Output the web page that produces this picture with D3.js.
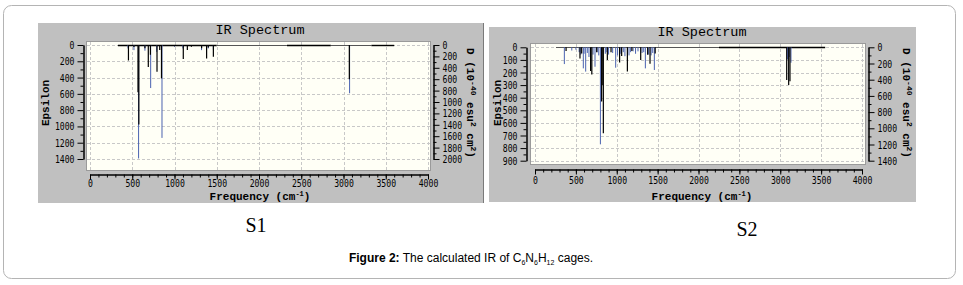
<!DOCTYPE html>
<html><head><meta charset="utf-8">
<script src="https://cdn.jsdelivr.net/npm/d3@7"></script>
<style>body{margin:0;background:#fff}svg{display:block}</style>
</head><body><svg id="c" width="963" height="285"></svg>
<script>
// ---------- DATA ----------
const xTicks = [0, 500, 1000, 1500, 2000, 2500, 3000, 3500, 4000];
const xMinorTicks = d3.range(0, 4001, 100);
const s1EpsTicks = [0, 200, 400, 600, 800, 1000, 1200, 1400];
const s1DTicks = [0, 200, 400, 600, 800, 1000, 1200, 1400, 1600, 1800, 2000];
const s2EpsTicks = [0, 100, 200, 300, 400, 500, 600, 700, 800, 900];
const s2DTicks = [0, 200, 400, 600, 800, 1000, 1200, 1400];

// baseline breakpoints (cm^-1)
const s1Baseline = [330, 1500, 2330, 2850, 3330, 3600];
const s2Baseline = [257, 2250, 3550];

// S1 epsilon (black) peaks
const s1EpsFreq = [455, 520, 568, 578, 650, 690, 715, 793, 825, 846, 1000, 1104, 1152, 1200, 1321, 1380, 1400, 1460, 3069];
const s1EpsVal  = [190, 25, 580, 975, 40, 270, 120, 330, 60, 410, 15, 172, 60, 20, 40, 165, 30, 143, 420];
// S1 dipole strength (blue) sticks
const s1DFreq = [450, 520, 575, 650, 718, 790, 852, 1000, 1100, 1320, 1400, 1460, 3072];
const s1DVal  = [60, 90, 1990, 100, 755, 120, 1630, 30, 60, 90, 60, 80, 847];

// S2 epsilon (black) peaks
const s2EpsFreq = [380, 550, 571, 680, 695, 755, 815, 822, 836, 885, 930, 1035, 1060, 1130, 1185, 1293, 1378, 1407, 1470, 3079, 3103, 3119];
const s2EpsVal  = [30, 88, 50, 188, 215, 40, 430, 300, 683, 100, 40, 120, 70, 193, 30, 100, 60, 130, 50, 260, 300, 270];
// S2 dipole strength (blue) sticks
const s2DFreq = [359, 450, 500, 540, 560, 591, 600, 620, 640, 660, 710, 734, 760, 780, 800, 860, 870, 900, 950, 987, 1010, 1050, 1080, 1100, 1150, 1170, 1200, 1230, 1260, 1310, 1330, 1350, 1390, 1420, 1440, 1460, 3090, 3110, 3131];
const s2DVal  = [207, 40, 30, 60, 90, 260, 80, 300, 70, 120, 90, 240, 60, 100, 1198, 80, 60, 90, 70, 252, 100, 80, 60, 110, 100, 60, 50, 80, 50, 70, 60, 260, 90, 100, 70, 280, 150, 120, 190];

// ---------- DRAW ----------
const svg = d3.select("#c");
svg.append("rect").attr("x", 3.5).attr("y", 5.5).attr("width", 952).attr("height", 273)
  .attr("rx", 8).attr("fill", "#fff").attr("stroke", "#b4b4b4").attr("stroke-width", 1);

const TICKFONT = "'DejaVu Sans Mono', 'Liberation Mono', monospace";
const TITLEFONT = "'Liberation Mono', 'DejaVu Sans Mono', monospace";

function squeeze(sel) {
  sel.selectAll("text").each(function () {
    const t = d3.select(this);
    const s = t.text();
    if (s.length) t.attr("textLength", s.length * 4.9).attr("lengthAdjust", "spacingAndGlyphs");
  });
}

function drawPanel(cfg) {
  const g = svg.append("g");
  g.append("rect").attr("x", cfg.panel[0]).attr("y", cfg.panel[1])
    .attr("width", cfg.panel[2] - cfg.panel[0]).attr("height", cfg.panel[3] - cfg.panel[1])
    .attr("fill", "#c0c0c0");
  if (cfg.shadow) {
    g.append("line").attr("x1", cfg.panel[2] - 0.5).attr("x2", cfg.panel[2] - 0.5)
      .attr("y1", cfg.panel[1]).attr("y2", cfg.panel[3]).attr("stroke", "#7a7a7a");
  }
  const [px0, py0, px1, py1] = cfg.plot;
  g.append("rect").attr("x", px0 + 0.5).attr("y", py0 + 0.5).attr("width", px1 - px0).attr("height", py1 - py0)
    .attr("fill", "#fffff6").attr("stroke", "#9a9a9a");

  const x = d3.scaleLinear().domain([0, 4000]).range(cfg.xr);
  const yE = d3.scaleLinear().domain([0, cfg.epsTicks[cfg.epsTicks.length - 1]]).range(cfg.yr);
  const yD = d3.scaleLinear().domain([0, cfg.dTicks[cfg.dTicks.length - 1]]).range(cfg.yr);

  const grid = g.append("g").attr("stroke", "#c8c8c8").attr("stroke-dasharray", "3,2").attr("stroke-width", 1);
  grid.selectAll("line.v").data(xTicks).join("line").attr("class", "v")
    .attr("x1", d => Math.round(x(d)) + 0.5).attr("x2", d => Math.round(x(d)) + 0.5)
    .attr("y1", py0 + 1).attr("y2", py1);
  grid.selectAll("line.h").data(cfg.epsTicks).join("line").attr("class", "h")
    .attr("y1", d => Math.round(yE(d)) + 0.5).attr("y2", d => Math.round(yE(d)) + 0.5)
    .attr("x1", px0 + 1).attr("x2", px1);

  const bl = cfg.baseline;
  for (let i = 0; i < bl.length - 1; i++) {
    const strong = cfg.baseStrong(i);
    g.append("line").attr("x1", x(bl[i])).attr("x2", x(bl[i + 1]))
      .attr("y1", Math.round(yE(0)) + 0.5).attr("y2", Math.round(yE(0)) + 0.5)
      .attr("stroke", strong ? "#000" : "#555").attr("stroke-width", strong ? 1.4 : 1);
  }
  g.selectAll("line.d").data(cfg.dFreq.map((f, i) => [f, cfg.dVal[i]])).join("line").attr("class", "d")
    .attr("x1", d => x(d[0])).attr("x2", d => x(d[0]))
    .attr("y1", yD(0)).attr("y2", d => yD(d[1]))
    .attr("stroke", "#4a62b0").attr("stroke-width", 1);
  g.selectAll("line.e").data(cfg.epsFreq.map((f, i) => [f, cfg.epsVal[i]])).join("line").attr("class", "e")
    .attr("x1", d => x(d[0])).attr("x2", d => x(d[0]))
    .attr("y1", yE(0)).attr("y2", d => yE(d[1]))
    .attr("stroke", "#000").attr("stroke-width", 1.2);

  const styleAxis = (a, fs) => {
    a.selectAll("path").attr("stroke", "#000");
    a.selectAll("line").attr("stroke", "#000");
    a.selectAll("text").attr("font-family", TICKFONT).attr("font-size", fs || 11).attr("fill", "#000");
  };
  const la = g.append("g").attr("transform", `translate(${cfg.leftX},0)`)
    .call(d3.axisLeft(yE).tickValues(cfg.epsTicks).tickSize(6).tickSizeOuter(0).tickPadding(3).tickFormat(d3.format("d")));
  styleAxis(la); squeeze(la);
  const lm = g.append("g").attr("transform", `translate(${cfg.leftX},0)`)
    .call(d3.axisLeft(yE).tickValues(cfg.epsMinor).tickSize(3).tickSizeOuter(0).tickFormat(""));
  styleAxis(lm);
  const ra = g.append("g").attr("transform", `translate(${cfg.rightX},0)`)
    .call(d3.axisRight(yD).tickValues(cfg.dTicks).tickSize(6).tickSizeOuter(0).tickPadding(3).tickFormat(d3.format("d")));
  styleAxis(ra); squeeze(ra);
  const rm = g.append("g").attr("transform", `translate(${cfg.rightX},0)`)
    .call(d3.axisRight(yD).tickValues(cfg.dMinor).tickSize(3).tickSizeOuter(0).tickFormat(""));
  styleAxis(rm);
  const ba = g.append("g").attr("transform", `translate(0,${cfg.axisY})`)
    .call(d3.axisBottom(x).tickValues(xTicks).tickSize(5).tickSizeOuter(0).tickPadding(cfg.xPad).tickFormat(d3.format("d")));
  styleAxis(ba, 10.5); squeeze(ba);
  const bm = g.append("g").attr("transform", `translate(0,${cfg.axisY})`)
    .call(d3.axisBottom(x).tickValues(xMinorTicks).tickSize(3).tickSizeOuter(0).tickFormat(""));
  styleAxis(bm);

  g.append("text").attr("x", cfg.titleX).attr("y", cfg.titleY).attr("text-anchor", "middle")
    .attr("font-family", TITLEFONT).attr("font-size", 13.5).attr("fill", "#000").text("IR Spectrum");

  const xl = g.append("text").attr("x", cfg.titleX).attr("y", 200).attr("text-anchor", "middle")
    .attr("font-family", TITLEFONT).attr("font-size", 11).attr("font-weight", "bold").attr("fill", "#000");
  xl.append("tspan").text("Frequency (cm");
  xl.append("tspan").attr("dy", -4).attr("font-size", 7).text("-1");
  xl.append("tspan").attr("dy", 4).text(")");

  g.append("text").attr("transform", `translate(${cfg.ylabX},${cfg.labY}) rotate(-90)`)
    .attr("text-anchor", "middle").attr("dy", "0.35em")
    .attr("font-family", TITLEFONT).attr("font-size", 11).attr("font-weight", "bold").attr("fill", "#000")
    .text("Epsilon");

  const rl = g.append("text").attr("transform", `translate(${cfg.rlabX},${cfg.labY}) rotate(90)`)
    .attr("text-anchor", "middle").attr("dy", "0.35em")
    .attr("font-family", TITLEFONT).attr("font-size", 11).attr("font-weight", "bold").attr("fill", "#000");
  rl.append("tspan").text("D (10");
  rl.append("tspan").attr("dy", -4).attr("font-size", 8).text("-40");
  rl.append("tspan").attr("dy", 4).text(" esu");
  rl.append("tspan").attr("dy", -4).attr("font-size", 8).text("2");
  rl.append("tspan").attr("dy", 4).text(" cm");
  rl.append("tspan").attr("dy", -4).attr("font-size", 8).text("2");
  rl.append("tspan").attr("dy", 4).text(")");
}

drawPanel({
  panel: [38, 23, 484, 203], shadow: true,
  plot: [86, 41, 430, 170],
  xr: [90, 428], yr: [45, 159],
  epsTicks: s1EpsTicks, epsMinor: d3.range(100, 1400, 200),
  dTicks: s1DTicks, dMinor: d3.range(100, 2000, 200),
  baseline: s1Baseline, baseStrong: i => i % 2 === 0,
  epsFreq: s1EpsFreq, epsVal: s1EpsVal, dFreq: s1DFreq, dVal: s1DVal,
  leftX: 83.5, rightX: 433.5, axisY: 174.5, xPad: 0,
  titleX: 260, titleY: 34, ylabX: 45, rlabX: 471, labY: 103
});

drawPanel({
  panel: [489, 27, 916, 202], shadow: false,
  plot: [530, 43, 865, 164],
  xr: [535, 862], yr: [47.3, 160.7],
  epsTicks: s2EpsTicks, epsMinor: d3.range(50, 900, 100),
  dTicks: s2DTicks, dMinor: d3.range(100, 1400, 200),
  baseline: s2Baseline, baseStrong: i => i === 1,
  epsFreq: s2EpsFreq, epsVal: s2EpsVal, dFreq: s2DFreq, dVal: s2DVal,
  leftX: 526.5, rightX: 868.5, axisY: 169.5, xPad: 2,
  titleX: 702, titleY: 36, ylabX: 497, rlabX: 907, labY: 103
});

svg.append("text").attr("x", 256).attr("y", 232).attr("text-anchor", "middle")
  .attr("font-family", "'Liberation Serif', serif").attr("font-size", 20).attr("fill", "#000").text("S1");
svg.append("text").attr("x", 747).attr("y", 236).attr("text-anchor", "middle")
  .attr("font-family", "'Liberation Serif', serif").attr("font-size", 20).attr("fill", "#000").text("S2");

const cap = svg.append("text").attr("x", 471).attr("y", 262).attr("text-anchor", "middle")
  .attr("font-family", "'Liberation Sans', Arial, sans-serif").attr("font-size", 12).attr("fill", "#000");
cap.append("tspan").attr("font-weight", "bold").text("Figure 2:");
cap.append("tspan").text(" The calculated IR of C");
cap.append("tspan").attr("dy", 3).attr("font-size", 7).text("6");
cap.append("tspan").attr("dy", -3).text("N");
cap.append("tspan").attr("dy", 3).attr("font-size", 7).text("6");
cap.append("tspan").attr("dy", -3).text("H");
cap.append("tspan").attr("dy", 3).attr("font-size", 7).text("12");
cap.append("tspan").attr("dy", -3).text(" cages.");
</script>
</body></html>
